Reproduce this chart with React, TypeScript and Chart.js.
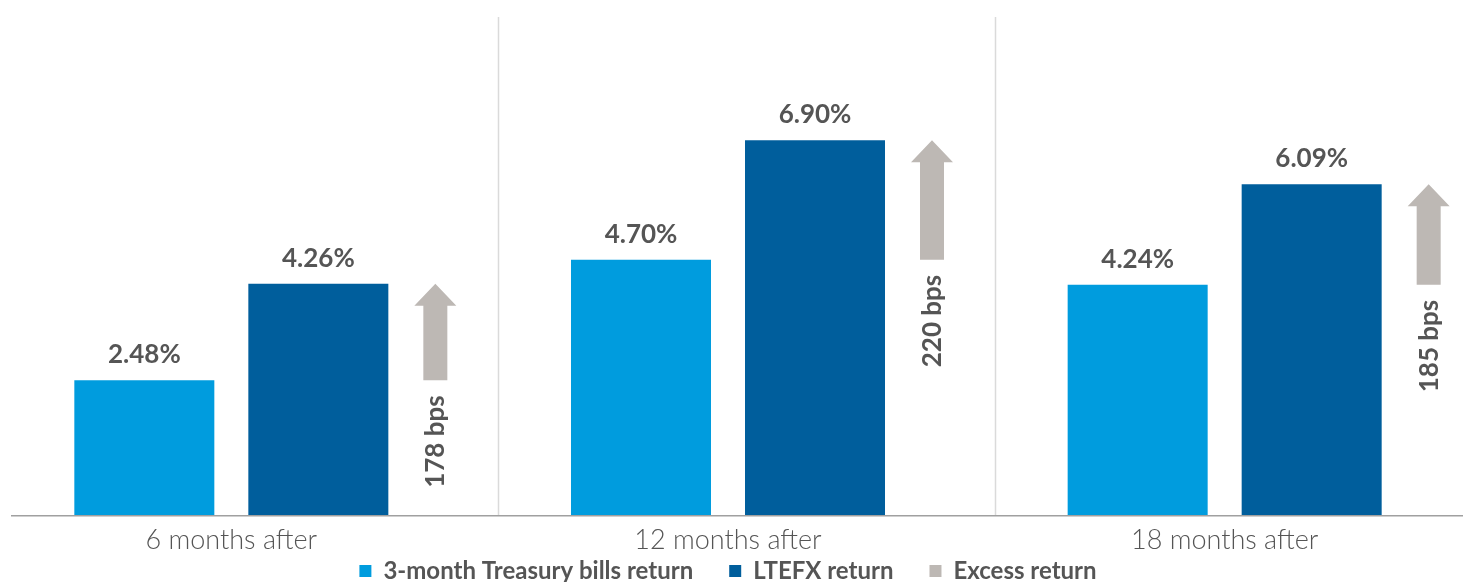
import React, { useEffect, useRef } from "react";
import { Chart, registerables } from "chart.js";

Chart.register(...registerables);

const categories = ["6 months after", "12 months after", "18 months after"];
const treasuryReturns = [2.48, 4.7, 4.24];
const ltefxReturns = [4.26, 6.9, 6.09];
const excessBps = [178, 220, 185];
const legendLabels = ["3-month Treasury bills return", "LTEFX return", "Excess return"];

const LIGHT = "#009CDE";
const DARK = "#005E9C";
const EXCESS = "#BDB8B4";
const TEXT = "#555555";
const FONT = "Lato";

const W = 1490;
const H = 593;

const overlayPlugin = {
  id: "overlay",
  beforeDatasetsDraw(chart: any) {
    const { ctx, chartArea, scales } = chart;
    const x = scales.x;
    const catW = (chartArea.right - chartArea.left) / categories.length;
    ctx.save();
    ctx.strokeStyle = "#DADADA";
    ctx.lineWidth = 1.5;
    for (let i = 0; i < categories.length - 1; i++) {
      const px = Math.round(x.getPixelForValue(i) + catW / 2 + 18.5) + 0.5;
      ctx.beginPath();
      ctx.moveTo(px, chartArea.top);
      ctx.lineTo(px, chartArea.bottom);
      ctx.stroke();
    }
    ctx.restore();
  },
  afterDatasetsDraw(chart: any) {
    const { ctx, chartArea } = chart;
    const lightMeta = chart.getDatasetMeta(0);
    const darkMeta = chart.getDatasetMeta(1);
    ctx.save();
    // baseline
    ctx.strokeStyle = "#A0A0A0";
    ctx.lineWidth = 1.5;
    ctx.beginPath();
    ctx.moveTo(chartArea.left + 28, chartArea.bottom + 0.75);
    ctx.lineTo(chartArea.right, chartArea.bottom + 0.75);
    ctx.stroke();

    // value labels
    ctx.fillStyle = TEXT;
    ctx.font = `bold 26px ${FONT}`;
    ctx.textAlign = "center";
    ctx.textBaseline = "alphabetic";
    [lightMeta, darkMeta].forEach((meta: any, di: number) => {
      const vals = di === 0 ? treasuryReturns : ltefxReturns;
      meta.data.forEach((bar: any, i: number) => {
        ctx.fillText(vals[i].toFixed(2) + "%", bar.x, bar.y - 17);
      });
    });

    // arrows
    darkMeta.data.forEach((bar: any, i: number) => {
      const lightBar = lightMeta.data[i];
      const cx = bar.x + 117;
      const top = bar.y;
      const bottom = lightBar.y;
      const shaftW = 24;
      const headW = 42;
      const headH = 22;
      ctx.fillStyle = EXCESS;
      ctx.beginPath();
      ctx.moveTo(cx, top);
      ctx.lineTo(cx + headW / 2, top + headH);
      ctx.lineTo(cx + shaftW / 2, top + headH);
      ctx.lineTo(cx + shaftW / 2, bottom);
      ctx.lineTo(cx - shaftW / 2, bottom);
      ctx.lineTo(cx - shaftW / 2, top + headH);
      ctx.lineTo(cx - headW / 2, top + headH);
      ctx.closePath();
      ctx.fill();

      ctx.save();
      ctx.translate(cx + 9, bottom + 15);
      ctx.rotate(-Math.PI / 2);
      ctx.fillStyle = TEXT;
      ctx.font = `bold 26px ${FONT}`;
      ctx.textAlign = "right";
      ctx.textBaseline = "alphabetic";
      ctx.fillText(`${excessBps[i]} bps`, 0, 0);
      ctx.restore();
    });
    ctx.restore();
  },
};

export default function App() {
  const ref = useRef<HTMLCanvasElement | null>(null);

  useEffect(() => {
    document.body.style.overflow = "hidden";
    const canvas = ref.current;
    if (!canvas) return;
    const chart = new Chart(canvas, {
      type: "bar",
      data: {
        labels: categories,
        datasets: [
          {
            label: legendLabels[0],
            data: treasuryReturns,
            backgroundColor: LIGHT,
            categoryPercentage: 0.7007,
            barPercentage: 0.8046,
          },
          {
            label: legendLabels[1],
            data: ltefxReturns,
            backgroundColor: DARK,
            categoryPercentage: 0.7007,
            barPercentage: 0.8046,
          },
        ],
      },
      options: {
        responsive: false,
        animation: false,
        layout: { padding: { top: 17, left: 0, right: 0, bottom: 0 } },
        scales: {
          x: {
            grid: { display: false, drawTicks: false },
            border: { display: false },
            ticks: {
              color: TEXT,
              font: { family: FONT, size: 27, weight: 300, lineHeight: "2px" },
              padding: -26,
              mirror: true,
            },
            afterFit: (scale: any) => {
              scale.height = 8;
            },
          },
          y: {
            display: false,
            min: 0,
            max: 9.17,
          },
        },
        plugins: {
          tooltip: { enabled: false },
          legend: {
            position: "bottom",
            labels: {
              color: TEXT,
              font: { family: FONT, size: 24, weight: "bold" },
              boxWidth: 12,
              boxHeight: 12,
              padding: 36,
              generateLabels: () =>
                legendLabels.map((t, i) => ({
                  text: t,
                  fillStyle: [LIGHT, DARK, EXCESS][i],
                  strokeStyle: [LIGHT, DARK, EXCESS][i],
                  lineWidth: 0,
                  hidden: false,
                  datasetIndex: i,
                  fontColor: TEXT,
                })),
            },
          },
        },
      },
      plugins: [overlayPlugin],
    });
    return () => chart.destroy();
  }, []);

  return (
    <div style={{ position: "fixed", left: -17, top: 0, width: W, height: H, background: "#fff" }}>
      <canvas ref={ref} width={W} height={H} style={{ width: W, height: H, display: "block" }} />
    </div>
  );
}
